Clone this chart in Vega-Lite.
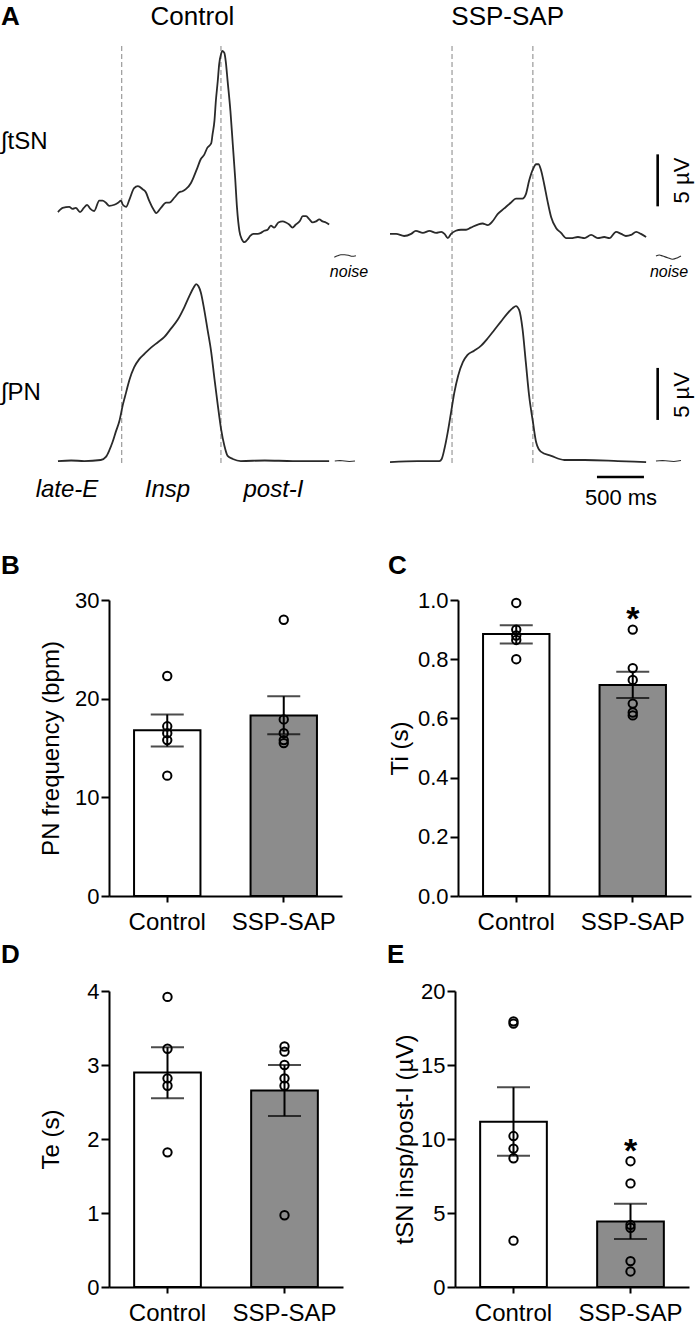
{
"$schema": "https://vega.github.io/schema/vega-lite/v6.json",
"background": "white",
"padding": {"top": 3, "left": 0, "right": 0, "bottom": 0},
"config": {
 "font": "Liberation Sans",
 "view": {"stroke": null},
 "axis": {"labelFont": "Liberation Sans", "titleFont": "Liberation Sans", "labelColor": "black", "titleColor": "black", "domainColor": "black", "tickColor": "black", "domainWidth": 2, "tickWidth": 2, "grid": false, "titleFontWeight": "normal"},
 "axisY": {"tickSize": 8, "labelFontSize": 22, "labelPadding": 2, "titleFontSize": 24, "titleAngle": -90, "titleBaseline": "middle", "titleAlign": "center", "titleY": 148},
 "axisX": {"tickSize": 6, "labelFontSize": 24, "labelPadding": 8, "labelAngle": 0},
 "title": {"font": "Liberation Sans", "fontSize": 26, "fontWeight": "bold", "anchor": "start", "frame": "group", "color": "black", "baseline": "alphabetic"}
},
"datasets": {
 "bars": [
  {"panel": "B", "group": "Control", "mean": 16.8, "lo": 15.15, "hi": 18.4},
  {"panel": "B", "group": "SSP-SAP", "mean": 18.3, "lo": 16.4, "hi": 20.25},
  {"panel": "C", "group": "Control", "mean": 0.885, "lo": 0.853, "hi": 0.915},
  {"panel": "C", "group": "SSP-SAP", "mean": 0.713, "lo": 0.669, "hi": 0.758},
  {"panel": "D", "group": "Control", "mean": 2.9, "lo": 2.55, "hi": 3.24},
  {"panel": "D", "group": "SSP-SAP", "mean": 2.655, "lo": 2.31, "hi": 3.0},
  {"panel": "E", "group": "Control", "mean": 11.17, "lo": 8.86, "hi": 13.5},
  {"panel": "E", "group": "SSP-SAP", "mean": 4.43, "lo": 3.24, "hi": 5.62}
 ],
 "points": [
  {"panel": "B", "group": "Control", "value": 22.3},
  {"panel": "B", "group": "Control", "value": 17.2},
  {"panel": "B", "group": "Control", "value": 16.5},
  {"panel": "B", "group": "Control", "value": 15.8},
  {"panel": "B", "group": "Control", "value": 12.2},
  {"panel": "B", "group": "SSP-SAP", "value": 28.0},
  {"panel": "B", "group": "SSP-SAP", "value": 17.9},
  {"panel": "B", "group": "SSP-SAP", "value": 16.5},
  {"panel": "B", "group": "SSP-SAP", "value": 15.8},
  {"panel": "B", "group": "SSP-SAP", "value": 15.5},
  {"panel": "C", "group": "Control", "value": 0.99},
  {"panel": "C", "group": "Control", "value": 0.9},
  {"panel": "C", "group": "Control", "value": 0.88},
  {"panel": "C", "group": "Control", "value": 0.865},
  {"panel": "C", "group": "Control", "value": 0.8},
  {"panel": "C", "group": "SSP-SAP", "value": 0.9},
  {"panel": "C", "group": "SSP-SAP", "value": 0.77},
  {"panel": "C", "group": "SSP-SAP", "value": 0.73},
  {"panel": "C", "group": "SSP-SAP", "value": 0.65},
  {"panel": "C", "group": "SSP-SAP", "value": 0.62},
  {"panel": "C", "group": "SSP-SAP", "value": 0.61},
  {"panel": "D", "group": "Control", "value": 3.92},
  {"panel": "D", "group": "Control", "value": 3.22},
  {"panel": "D", "group": "Control", "value": 2.82},
  {"panel": "D", "group": "Control", "value": 2.72},
  {"panel": "D", "group": "Control", "value": 1.82},
  {"panel": "D", "group": "SSP-SAP", "value": 3.25},
  {"panel": "D", "group": "SSP-SAP", "value": 3.18},
  {"panel": "D", "group": "SSP-SAP", "value": 3.0},
  {"panel": "D", "group": "SSP-SAP", "value": 2.82},
  {"panel": "D", "group": "SSP-SAP", "value": 2.72},
  {"panel": "D", "group": "SSP-SAP", "value": 0.97},
  {"panel": "E", "group": "Control", "value": 17.95},
  {"panel": "E", "group": "Control", "value": 17.8},
  {"panel": "E", "group": "Control", "value": 10.2},
  {"panel": "E", "group": "Control", "value": 9.35},
  {"panel": "E", "group": "Control", "value": 8.7},
  {"panel": "E", "group": "Control", "value": 3.13},
  {"panel": "E", "group": "SSP-SAP", "value": 8.5},
  {"panel": "E", "group": "SSP-SAP", "value": 7.0},
  {"panel": "E", "group": "SSP-SAP", "value": 4.2},
  {"panel": "E", "group": "SSP-SAP", "value": 4.0},
  {"panel": "E", "group": "SSP-SAP", "value": 1.75},
  {"panel": "E", "group": "SSP-SAP", "value": 1.05}
 ],
 "stars": [
  {"panel": "C", "group": "SSP-SAP", "label": "*", "v": 0.933},
  {"panel": "E", "group": "SSP-SAP", "label": "*", "v": 9.1}
 ],
 "phases": [
  {"cond": "Control", "t": 678},
  {"cond": "Control", "t": 1734},
  {"cond": "SSP-SAP", "t": 660},
  {"cond": "SSP-SAP", "t": 1520}
 ],
 "scalebars": [
  {"sig": "tSN", "t": 2848, "t2": 2848, "v": 0.45, "v2": 5.45},
  {"sig": "PN", "t": 2848, "t2": 2848, "v": 3.95, "v2": 8.95},
  {"sig": "PN", "t": 2202, "t2": 2702, "v": -1.54, "v2": -1.54}
 ],
 "labels": [
  {"cond": "Control", "sig": "tSN", "role": "letter", "label": "A", "t": -606, "v": 18.65},
  {"cond": "Control", "sig": "tSN", "role": "heading", "label": "Control", "t": 1431, "v": 18.7},
  {"cond": "SSP-SAP", "sig": "tSN", "role": "heading", "label": "SSP-SAP", "t": 1252, "v": 18.65},
  {"cond": "Control", "sig": "tSN", "role": "signal", "label": "∫tSN", "t": -606, "v": 6.63},
  {"cond": "Control", "sig": "PN", "role": "signal", "label": "∫PN", "t": -606, "v": 6.54},
  {"cond": "Control", "sig": "tSN", "role": "noise", "label": "noise", "t": 3096, "v": -5.87},
  {"cond": "SSP-SAP", "sig": "tSN", "role": "noise", "label": "noise", "t": 2969, "v": -5.87},
  {"cond": "Control", "sig": "PN", "role": "phase", "label": "late-E", "t": 96, "v": -2.79},
  {"cond": "Control", "sig": "PN", "role": "phase", "label": "Insp", "t": 1165, "v": -2.79},
  {"cond": "Control", "sig": "PN", "role": "phase", "label": "post-I", "t": 2293, "v": -2.79},
  {"cond": "SSP-SAP", "sig": "tSN", "role": "unit", "label": "5 µV", "t": 3104, "v": 2.93},
  {"cond": "SSP-SAP", "sig": "PN", "role": "unit", "label": "5 µV", "t": 3104, "v": 6.35},
  {"cond": "SSP-SAP", "sig": "PN", "role": "time", "label": "500 ms", "t": 2458, "v": -3.56}
 ],
 "traces": [
  {"cond":"Control","sig":"tSN","part":"trace","t":0,"v":-0.1},
  {"cond":"Control","sig":"tSN","part":"trace","t":50,"v":0.3},
  {"cond":"Control","sig":"tSN","part":"trace","t":120,"v":0.4},
  {"cond":"Control","sig":"tSN","part":"trace","t":155,"v":0.2},
  {"cond":"Control","sig":"tSN","part":"trace","t":190,"v":0.3},
  {"cond":"Control","sig":"tSN","part":"trace","t":235,"v":-0.1},
  {"cond":"Control","sig":"tSN","part":"trace","t":275,"v":0.3},
  {"cond":"Control","sig":"tSN","part":"trace","t":310,"v":0.6},
  {"cond":"Control","sig":"tSN","part":"trace","t":345,"v":0.2},
  {"cond":"Control","sig":"tSN","part":"trace","t":385,"v":0.0},
  {"cond":"Control","sig":"tSN","part":"trace","t":440,"v":1.0},
  {"cond":"Control","sig":"tSN","part":"trace","t":475,"v":1.0},
  {"cond":"Control","sig":"tSN","part":"trace","t":510,"v":0.8},
  {"cond":"Control","sig":"tSN","part":"trace","t":545,"v":0.5},
  {"cond":"Control","sig":"tSN","part":"trace","t":600,"v":0.6},
  {"cond":"Control","sig":"tSN","part":"trace","t":640,"v":0.8},
  {"cond":"Control","sig":"tSN","part":"trace","t":670,"v":1.0},
  {"cond":"Control","sig":"tSN","part":"trace","t":690,"v":0.6},
  {"cond":"Control","sig":"tSN","part":"trace","t":725,"v":0.4},
  {"cond":"Control","sig":"tSN","part":"trace","t":760,"v":1.1},
  {"cond":"Control","sig":"tSN","part":"trace","t":810,"v":2.2},
  {"cond":"Control","sig":"tSN","part":"trace","t":850,"v":2.4},
  {"cond":"Control","sig":"tSN","part":"trace","t":900,"v":2.1},
  {"cond":"Control","sig":"tSN","part":"trace","t":935,"v":1.8},
  {"cond":"Control","sig":"tSN","part":"trace","t":970,"v":1.0},
  {"cond":"Control","sig":"tSN","part":"trace","t":1020,"v":0.1},
  {"cond":"Control","sig":"tSN","part":"trace","t":1045,"v":-0.2},
  {"cond":"Control","sig":"tSN","part":"trace","t":1095,"v":0.3},
  {"cond":"Control","sig":"tSN","part":"trace","t":1150,"v":0.8},
  {"cond":"Control","sig":"tSN","part":"trace","t":1185,"v":0.8},
  {"cond":"Control","sig":"tSN","part":"trace","t":1240,"v":1.3},
  {"cond":"Control","sig":"tSN","part":"trace","t":1290,"v":1.8},
  {"cond":"Control","sig":"tSN","part":"trace","t":1325,"v":1.9},
  {"cond":"Control","sig":"tSN","part":"trace","t":1360,"v":2.1},
  {"cond":"Control","sig":"tSN","part":"trace","t":1415,"v":2.7},
  {"cond":"Control","sig":"tSN","part":"trace","t":1450,"v":3.4},
  {"cond":"Control","sig":"tSN","part":"trace","t":1485,"v":4.2},
  {"cond":"Control","sig":"tSN","part":"trace","t":1520,"v":5.0},
  {"cond":"Control","sig":"tSN","part":"trace","t":1555,"v":5.4},
  {"cond":"Control","sig":"tSN","part":"trace","t":1590,"v":6.1},
  {"cond":"Control","sig":"tSN","part":"trace","t":1630,"v":6.5},
  {"cond":"Control","sig":"tSN","part":"trace","t":1645,"v":7.4},
  {"cond":"Control","sig":"tSN","part":"trace","t":1665,"v":8.7},
  {"cond":"Control","sig":"tSN","part":"trace","t":1680,"v":10.6},
  {"cond":"Control","sig":"tSN","part":"trace","t":1700,"v":12.5},
  {"cond":"Control","sig":"tSN","part":"trace","t":1715,"v":14.1},
  {"cond":"Control","sig":"tSN","part":"trace","t":1735,"v":15.1},
  {"cond":"Control","sig":"tSN","part":"trace","t":1750,"v":15.4},
  {"cond":"Control","sig":"tSN","part":"trace","t":1770,"v":15.2},
  {"cond":"Control","sig":"tSN","part":"trace","t":1785,"v":14.4},
  {"cond":"Control","sig":"tSN","part":"trace","t":1805,"v":12.5},
  {"cond":"Control","sig":"tSN","part":"trace","t":1835,"v":9.6},
  {"cond":"Control","sig":"tSN","part":"trace","t":1860,"v":6.4},
  {"cond":"Control","sig":"tSN","part":"trace","t":1885,"v":3.2},
  {"cond":"Control","sig":"tSN","part":"trace","t":1905,"v":0.3},
  {"cond":"Control","sig":"tSN","part":"trace","t":1930,"v":-1.9},
  {"cond":"Control","sig":"tSN","part":"trace","t":1955,"v":-2.7},
  {"cond":"Control","sig":"tSN","part":"trace","t":1985,"v":-3.0},
  {"cond":"Control","sig":"tSN","part":"trace","t":2020,"v":-2.7},
  {"cond":"Control","sig":"tSN","part":"trace","t":2045,"v":-2.4},
  {"cond":"Control","sig":"tSN","part":"trace","t":2080,"v":-2.2},
  {"cond":"Control","sig":"tSN","part":"trace","t":2125,"v":-2.2},
  {"cond":"Control","sig":"tSN","part":"trace","t":2160,"v":-2.1},
  {"cond":"Control","sig":"tSN","part":"trace","t":2195,"v":-1.9},
  {"cond":"Control","sig":"tSN","part":"trace","t":2230,"v":-1.8},
  {"cond":"Control","sig":"tSN","part":"trace","t":2265,"v":-1.4},
  {"cond":"Control","sig":"tSN","part":"trace","t":2300,"v":-1.6},
  {"cond":"Control","sig":"tSN","part":"trace","t":2345,"v":-1.1},
  {"cond":"Control","sig":"tSN","part":"trace","t":2390,"v":-1.0},
  {"cond":"Control","sig":"tSN","part":"trace","t":2425,"v":-1.1},
  {"cond":"Control","sig":"tSN","part":"trace","t":2460,"v":-1.3},
  {"cond":"Control","sig":"tSN","part":"trace","t":2495,"v":-1.6},
  {"cond":"Control","sig":"tSN","part":"trace","t":2530,"v":-1.3},
  {"cond":"Control","sig":"tSN","part":"trace","t":2570,"v":-1.0},
  {"cond":"Control","sig":"tSN","part":"trace","t":2605,"v":-0.5},
  {"cond":"Control","sig":"tSN","part":"trace","t":2640,"v":-0.5},
  {"cond":"Control","sig":"tSN","part":"trace","t":2675,"v":-0.8},
  {"cond":"Control","sig":"tSN","part":"trace","t":2710,"v":-1.1},
  {"cond":"Control","sig":"tSN","part":"trace","t":2745,"v":-1.0},
  {"cond":"Control","sig":"tSN","part":"trace","t":2780,"v":-0.8},
  {"cond":"Control","sig":"tSN","part":"trace","t":2815,"v":-1.0},
  {"cond":"Control","sig":"tSN","part":"trace","t":2850,"v":-1.1},
  {"cond":"Control","sig":"tSN","part":"trace","t":2885,"v":-1.3},
  {"cond":"Control","sig":"tSN","part":"noise","t":2940,"v":-4.45},
  {"cond":"Control","sig":"tSN","part":"noise","t":2975,"v":-4.3},
  {"cond":"Control","sig":"tSN","part":"noise","t":3010,"v":-4.2},
  {"cond":"Control","sig":"tSN","part":"noise","t":3050,"v":-4.2},
  {"cond":"Control","sig":"tSN","part":"noise","t":3090,"v":-4.25},
  {"cond":"Control","sig":"tSN","part":"noise","t":3130,"v":-4.35},
  {"cond":"Control","sig":"tSN","part":"noise","t":3170,"v":-4.3},
  {"cond":"Control","sig":"PN","part":"trace","t":0,"v":0},
  {"cond":"Control","sig":"PN","part":"trace","t":140,"v":0.05},
  {"cond":"Control","sig":"PN","part":"trace","t":280,"v":0},
  {"cond":"Control","sig":"PN","part":"trace","t":455,"v":0.1},
  {"cond":"Control","sig":"PN","part":"trace","t":510,"v":0.4},
  {"cond":"Control","sig":"PN","part":"trace","t":545,"v":1.0},
  {"cond":"Control","sig":"PN","part":"trace","t":580,"v":1.8},
  {"cond":"Control","sig":"PN","part":"trace","t":615,"v":2.8},
  {"cond":"Control","sig":"PN","part":"trace","t":655,"v":3.9},
  {"cond":"Control","sig":"PN","part":"trace","t":690,"v":5.4},
  {"cond":"Control","sig":"PN","part":"trace","t":725,"v":6.6},
  {"cond":"Control","sig":"PN","part":"trace","t":760,"v":7.8},
  {"cond":"Control","sig":"PN","part":"trace","t":810,"v":9.0},
  {"cond":"Control","sig":"PN","part":"trace","t":865,"v":9.8},
  {"cond":"Control","sig":"PN","part":"trace","t":920,"v":10.3},
  {"cond":"Control","sig":"PN","part":"trace","t":990,"v":10.9},
  {"cond":"Control","sig":"PN","part":"trace","t":1060,"v":11.4},
  {"cond":"Control","sig":"PN","part":"trace","t":1130,"v":11.9},
  {"cond":"Control","sig":"PN","part":"trace","t":1200,"v":12.7},
  {"cond":"Control","sig":"PN","part":"trace","t":1275,"v":13.6},
  {"cond":"Control","sig":"PN","part":"trace","t":1345,"v":14.8},
  {"cond":"Control","sig":"PN","part":"trace","t":1395,"v":15.8},
  {"cond":"Control","sig":"PN","part":"trace","t":1445,"v":16.7},
  {"cond":"Control","sig":"PN","part":"trace","t":1470,"v":17.0},
  {"cond":"Control","sig":"PN","part":"trace","t":1495,"v":16.8},
  {"cond":"Control","sig":"PN","part":"trace","t":1520,"v":16.2},
  {"cond":"Control","sig":"PN","part":"trace","t":1555,"v":14.6},
  {"cond":"Control","sig":"PN","part":"trace","t":1590,"v":12.7},
  {"cond":"Control","sig":"PN","part":"trace","t":1630,"v":10.5},
  {"cond":"Control","sig":"PN","part":"trace","t":1665,"v":7.9},
  {"cond":"Control","sig":"PN","part":"trace","t":1700,"v":5.4},
  {"cond":"Control","sig":"PN","part":"trace","t":1735,"v":3.1},
  {"cond":"Control","sig":"PN","part":"trace","t":1770,"v":1.5},
  {"cond":"Control","sig":"PN","part":"trace","t":1805,"v":0.5},
  {"cond":"Control","sig":"PN","part":"trace","t":1860,"v":0.2},
  {"cond":"Control","sig":"PN","part":"trace","t":1945,"v":0},
  {"cond":"Control","sig":"PN","part":"trace","t":2200,"v":0.05},
  {"cond":"Control","sig":"PN","part":"trace","t":2500,"v":0},
  {"cond":"Control","sig":"PN","part":"trace","t":2885,"v":0},
  {"cond":"Control","sig":"PN","part":"noise","t":2945,"v":0.0},
  {"cond":"Control","sig":"PN","part":"noise","t":3000,"v":0.05},
  {"cond":"Control","sig":"PN","part":"noise","t":3050,"v":0.0},
  {"cond":"Control","sig":"PN","part":"noise","t":3100,"v":-0.05},
  {"cond":"Control","sig":"PN","part":"noise","t":3160,"v":0.0},
  {"cond":"SSP-SAP","sig":"tSN","part":"trace","t":0,"v":-2.2},
  {"cond":"SSP-SAP","sig":"tSN","part":"trace","t":65,"v":-2.2},
  {"cond":"SSP-SAP","sig":"tSN","part":"trace","t":150,"v":-2.4},
  {"cond":"SSP-SAP","sig":"tSN","part":"trace","t":225,"v":-2.2},
  {"cond":"SSP-SAP","sig":"tSN","part":"trace","t":275,"v":-1.9},
  {"cond":"SSP-SAP","sig":"tSN","part":"trace","t":350,"v":-2.1},
  {"cond":"SSP-SAP","sig":"tSN","part":"trace","t":420,"v":-1.9},
  {"cond":"SSP-SAP","sig":"tSN","part":"trace","t":490,"v":-2.1},
  {"cond":"SSP-SAP","sig":"tSN","part":"trace","t":545,"v":-2.0},
  {"cond":"SSP-SAP","sig":"tSN","part":"trace","t":580,"v":-2.2},
  {"cond":"SSP-SAP","sig":"tSN","part":"trace","t":615,"v":-2.6},
  {"cond":"SSP-SAP","sig":"tSN","part":"trace","t":650,"v":-2.2},
  {"cond":"SSP-SAP","sig":"tSN","part":"trace","t":700,"v":-1.9},
  {"cond":"SSP-SAP","sig":"tSN","part":"trace","t":755,"v":-1.8},
  {"cond":"SSP-SAP","sig":"tSN","part":"trace","t":810,"v":-1.8},
  {"cond":"SSP-SAP","sig":"tSN","part":"trace","t":860,"v":-1.6},
  {"cond":"SSP-SAP","sig":"tSN","part":"trace","t":935,"v":-1.3},
  {"cond":"SSP-SAP","sig":"tSN","part":"trace","t":985,"v":-1.2},
  {"cond":"SSP-SAP","sig":"tSN","part":"trace","t":1040,"v":-1.35},
  {"cond":"SSP-SAP","sig":"tSN","part":"trace","t":1090,"v":-1.0},
  {"cond":"SSP-SAP","sig":"tSN","part":"trace","t":1145,"v":-0.3},
  {"cond":"SSP-SAP","sig":"tSN","part":"trace","t":1215,"v":0.25},
  {"cond":"SSP-SAP","sig":"tSN","part":"trace","t":1285,"v":0.8},
  {"cond":"SSP-SAP","sig":"tSN","part":"trace","t":1340,"v":1.2},
  {"cond":"SSP-SAP","sig":"tSN","part":"trace","t":1410,"v":1.2},
  {"cond":"SSP-SAP","sig":"tSN","part":"trace","t":1445,"v":1.6},
  {"cond":"SSP-SAP","sig":"tSN","part":"trace","t":1480,"v":2.9},
  {"cond":"SSP-SAP","sig":"tSN","part":"trace","t":1520,"v":4.0},
  {"cond":"SSP-SAP","sig":"tSN","part":"trace","t":1555,"v":4.5},
  {"cond":"SSP-SAP","sig":"tSN","part":"trace","t":1580,"v":4.5},
  {"cond":"SSP-SAP","sig":"tSN","part":"trace","t":1605,"v":4.0},
  {"cond":"SSP-SAP","sig":"tSN","part":"trace","t":1640,"v":2.6},
  {"cond":"SSP-SAP","sig":"tSN","part":"trace","t":1675,"v":1.0},
  {"cond":"SSP-SAP","sig":"tSN","part":"trace","t":1715,"v":-0.6},
  {"cond":"SSP-SAP","sig":"tSN","part":"trace","t":1765,"v":-1.6},
  {"cond":"SSP-SAP","sig":"tSN","part":"trace","t":1820,"v":-2.1},
  {"cond":"SSP-SAP","sig":"tSN","part":"trace","t":1875,"v":-2.6},
  {"cond":"SSP-SAP","sig":"tSN","part":"trace","t":1925,"v":-2.6},
  {"cond":"SSP-SAP","sig":"tSN","part":"trace","t":2000,"v":-2.5},
  {"cond":"SSP-SAP","sig":"tSN","part":"trace","t":2070,"v":-2.6},
  {"cond":"SSP-SAP","sig":"tSN","part":"trace","t":2140,"v":-2.3},
  {"cond":"SSP-SAP","sig":"tSN","part":"trace","t":2210,"v":-2.6},
  {"cond":"SSP-SAP","sig":"tSN","part":"trace","t":2280,"v":-2.5},
  {"cond":"SSP-SAP","sig":"tSN","part":"trace","t":2335,"v":-2.6},
  {"cond":"SSP-SAP","sig":"tSN","part":"trace","t":2405,"v":-2.0},
  {"cond":"SSP-SAP","sig":"tSN","part":"trace","t":2460,"v":-2.2},
  {"cond":"SSP-SAP","sig":"tSN","part":"trace","t":2510,"v":-2.4},
  {"cond":"SSP-SAP","sig":"tSN","part":"trace","t":2565,"v":-2.3},
  {"cond":"SSP-SAP","sig":"tSN","part":"trace","t":2620,"v":-2.0},
  {"cond":"SSP-SAP","sig":"tSN","part":"trace","t":2670,"v":-2.2},
  {"cond":"SSP-SAP","sig":"tSN","part":"trace","t":2725,"v":-2.5},
  {"cond":"SSP-SAP","sig":"tSN","part":"noise","t":2830,"v":-4.33},
  {"cond":"SSP-SAP","sig":"tSN","part":"noise","t":2866,"v":-4.23},
  {"cond":"SSP-SAP","sig":"tSN","part":"noise","t":2901,"v":-4.33},
  {"cond":"SSP-SAP","sig":"tSN","part":"noise","t":2954,"v":-4.49},
  {"cond":"SSP-SAP","sig":"tSN","part":"noise","t":3007,"v":-4.64},
  {"cond":"SSP-SAP","sig":"tSN","part":"noise","t":3060,"v":-4.49},
  {"cond":"SSP-SAP","sig":"tSN","part":"noise","t":3096,"v":-4.33},
  {"cond":"SSP-SAP","sig":"PN","part":"trace","t":0,"v":-0.1},
  {"cond":"SSP-SAP","sig":"PN","part":"trace","t":295,"v":0},
  {"cond":"SSP-SAP","sig":"PN","part":"trace","t":525,"v":0},
  {"cond":"SSP-SAP","sig":"PN","part":"trace","t":550,"v":0.2},
  {"cond":"SSP-SAP","sig":"PN","part":"trace","t":580,"v":1.2},
  {"cond":"SSP-SAP","sig":"PN","part":"trace","t":615,"v":2.8},
  {"cond":"SSP-SAP","sig":"PN","part":"trace","t":650,"v":4.7},
  {"cond":"SSP-SAP","sig":"PN","part":"trace","t":685,"v":6.6},
  {"cond":"SSP-SAP","sig":"PN","part":"trace","t":725,"v":8.2},
  {"cond":"SSP-SAP","sig":"PN","part":"trace","t":775,"v":9.5},
  {"cond":"SSP-SAP","sig":"PN","part":"trace","t":825,"v":10.2},
  {"cond":"SSP-SAP","sig":"PN","part":"trace","t":895,"v":10.6},
  {"cond":"SSP-SAP","sig":"PN","part":"trace","t":970,"v":11.1},
  {"cond":"SSP-SAP","sig":"PN","part":"trace","t":1040,"v":11.8},
  {"cond":"SSP-SAP","sig":"PN","part":"trace","t":1110,"v":12.6},
  {"cond":"SSP-SAP","sig":"PN","part":"trace","t":1180,"v":13.4},
  {"cond":"SSP-SAP","sig":"PN","part":"trace","t":1250,"v":14.2},
  {"cond":"SSP-SAP","sig":"PN","part":"trace","t":1305,"v":14.7},
  {"cond":"SSP-SAP","sig":"PN","part":"trace","t":1340,"v":14.9},
  {"cond":"SSP-SAP","sig":"PN","part":"trace","t":1375,"v":14.5},
  {"cond":"SSP-SAP","sig":"PN","part":"trace","t":1410,"v":12.7},
  {"cond":"SSP-SAP","sig":"PN","part":"trace","t":1445,"v":9.5},
  {"cond":"SSP-SAP","sig":"PN","part":"trace","t":1480,"v":6.3},
  {"cond":"SSP-SAP","sig":"PN","part":"trace","t":1520,"v":3.8},
  {"cond":"SSP-SAP","sig":"PN","part":"trace","t":1555,"v":1.8},
  {"cond":"SSP-SAP","sig":"PN","part":"trace","t":1605,"v":0.9},
  {"cond":"SSP-SAP","sig":"PN","part":"trace","t":1715,"v":0.5},
  {"cond":"SSP-SAP","sig":"PN","part":"trace","t":1855,"v":0.1},
  {"cond":"SSP-SAP","sig":"PN","part":"trace","t":2070,"v":0.1},
  {"cond":"SSP-SAP","sig":"PN","part":"trace","t":2425,"v":0},
  {"cond":"SSP-SAP","sig":"PN","part":"trace","t":2725,"v":-0.1},
  {"cond":"SSP-SAP","sig":"PN","part":"noise","t":2830,"v":0.0},
  {"cond":"SSP-SAP","sig":"PN","part":"noise","t":2900,"v":0.05},
  {"cond":"SSP-SAP","sig":"PN","part":"noise","t":2960,"v":0.0},
  {"cond":"SSP-SAP","sig":"PN","part":"noise","t":3020,"v":-0.05},
  {"cond":"SSP-SAP","sig":"PN","part":"noise","t":3060,"v":0.0},
  {"cond":"SSP-SAP","sig":"PN","part":"noise","t":3096,"v":0.05}
 ]
},
"columns": 1,
"align": "none",
"spacing": 41,
"concat": [
 {
  "spacing": -6,
  "vconcat": [
   {
    "spacing": 8,
    "hconcat": [
     {
      "width": 269, "height": 235,
      "layer": [
       {"data": {"name": "phases"}, "transform": [{"filter": "datum.cond==='Control'"}],
        "mark": {"type": "rule", "color": "#9a9a9a", "strokeWidth": 1.2, "strokeDash": [5, 3]},
        "encoding": {"x": {"field": "t", "type": "quantitative", "scale": {"domain": [543, 3404.8], "nice": false, "zero": false}, "axis": null}}},
       {"data": {"name": "traces"}, "transform": [{"filter": "datum.cond==='Control' && datum.sig==='tSN' && datum.part==='trace'"}],
        "mark": {"type": "line", "color": "#2a2a2a", "strokeWidth": 1.8, "interpolate": "monotone"},
        "encoding": {"x": {"field": "t", "type": "quantitative", "scale": {"domain": [543, 3404.8], "nice": false, "zero": false}, "axis": null},
                     "y": {"field": "v", "type": "quantitative", "scale": {"domain": [-6.73, 15.87], "nice": false, "zero": false}, "axis": null}}},
       {"data": {"name": "traces"}, "transform": [{"filter": "datum.cond==='Control' && datum.sig==='tSN' && datum.part==='noise'"}],
        "mark": {"type": "line", "color": "#2a2a2a", "strokeWidth": 1.1, "interpolate": "monotone"},
        "encoding": {"x": {"field": "t", "type": "quantitative", "scale": {"domain": [543, 3404.8], "nice": false, "zero": false}, "axis": null},
                     "y": {"field": "v", "type": "quantitative", "scale": {"domain": [-6.73, 15.87], "nice": false, "zero": false}, "axis": null}}},
       {"data": {"name": "labels"}, "transform": [{"filter": "datum.cond==='Control' && datum.sig==='tSN' && datum.role==='letter'"}],
        "mark": {"type": "text", "fontSize": 26, "fontWeight": "bold", "align": "left", "baseline": "middle", "color": "black"},
        "encoding": {"x": {"field": "t", "type": "quantitative", "scale": {"domain": [543, 3404.8], "nice": false, "zero": false}, "axis": null},
                     "y": {"field": "v", "type": "quantitative", "scale": {"domain": [-6.73, 15.87], "nice": false, "zero": false}, "axis": null},
                     "text": {"field": "label"}}},
       {"data": {"name": "labels"}, "transform": [{"filter": "datum.cond==='Control' && datum.sig==='tSN' && datum.role==='heading'"}],
        "mark": {"type": "text", "fontSize": 26, "align": "center", "baseline": "middle", "color": "black"},
        "encoding": {"x": {"field": "t", "type": "quantitative", "scale": {"domain": [543, 3404.8], "nice": false, "zero": false}, "axis": null},
                     "y": {"field": "v", "type": "quantitative", "scale": {"domain": [-6.73, 15.87], "nice": false, "zero": false}, "axis": null},
                     "text": {"field": "label"}}},
       {"data": {"name": "labels"}, "transform": [{"filter": "datum.cond==='Control' && datum.sig==='tSN' && datum.role==='signal'"}],
        "mark": {"type": "text", "fontSize": 24, "align": "left", "baseline": "middle", "color": "black"},
        "encoding": {"x": {"field": "t", "type": "quantitative", "scale": {"domain": [543, 3404.8], "nice": false, "zero": false}, "axis": null},
                     "y": {"field": "v", "type": "quantitative", "scale": {"domain": [-6.73, 15.87], "nice": false, "zero": false}, "axis": null},
                     "text": {"field": "label"}}},
       {"data": {"name": "labels"}, "transform": [{"filter": "datum.cond==='Control' && datum.sig==='tSN' && datum.role==='noise'"}],
        "mark": {"type": "text", "fontSize": 16, "fontStyle": "italic", "align": "center", "baseline": "middle", "color": "black"},
        "encoding": {"x": {"field": "t", "type": "quantitative", "scale": {"domain": [543, 3404.8], "nice": false, "zero": false}, "axis": null},
                     "y": {"field": "v", "type": "quantitative", "scale": {"domain": [-6.73, 15.87], "nice": false, "zero": false}, "axis": null},
                     "text": {"field": "label"}}}
      ]
     },
     {
      "width": 311, "height": 235,
      "layer": [
       {"data": {"name": "phases"}, "transform": [{"filter": "datum.cond==='SSP-SAP'"}],
        "mark": {"type": "rule", "color": "#9a9a9a", "strokeWidth": 1.2, "strokeDash": [5, 3]},
        "encoding": {"x": {"field": "t", "type": "quantitative", "scale": {"domain": [0, 3309], "nice": false, "zero": false}, "axis": null}}},
       {"data": {"name": "traces"}, "transform": [{"filter": "datum.cond==='SSP-SAP' && datum.sig==='tSN' && datum.part==='trace'"}],
        "mark": {"type": "line", "color": "#2a2a2a", "strokeWidth": 1.8, "interpolate": "monotone"},
        "encoding": {"x": {"field": "t", "type": "quantitative", "scale": {"domain": [0, 3309], "nice": false, "zero": false}, "axis": null},
                     "y": {"field": "v", "type": "quantitative", "scale": {"domain": [-6.73, 15.87], "nice": false, "zero": false}, "axis": null}}},
       {"data": {"name": "traces"}, "transform": [{"filter": "datum.cond==='SSP-SAP' && datum.sig==='tSN' && datum.part==='noise'"}],
        "mark": {"type": "line", "color": "#2a2a2a", "strokeWidth": 1.1, "interpolate": "monotone"},
        "encoding": {"x": {"field": "t", "type": "quantitative", "scale": {"domain": [0, 3309], "nice": false, "zero": false}, "axis": null},
                     "y": {"field": "v", "type": "quantitative", "scale": {"domain": [-6.73, 15.87], "nice": false, "zero": false}, "axis": null}}},
       {"data": {"name": "scalebars"}, "transform": [{"filter": "datum.sig==='tSN'"}],
        "mark": {"type": "rule", "color": "black", "strokeWidth": 2.6},
        "encoding": {"x": {"field": "t", "type": "quantitative", "scale": {"domain": [0, 3309], "nice": false, "zero": false}, "axis": null},
                     "x2": {"field": "t2"},
                     "y": {"field": "v", "type": "quantitative", "scale": {"domain": [-6.73, 15.87], "nice": false, "zero": false}, "axis": null},
                     "y2": {"field": "v2"}}},
       {"data": {"name": "labels"}, "transform": [{"filter": "datum.cond==='SSP-SAP' && datum.sig==='tSN' && datum.role==='heading'"}],
        "mark": {"type": "text", "fontSize": 26, "align": "center", "baseline": "middle", "color": "black"},
        "encoding": {"x": {"field": "t", "type": "quantitative", "scale": {"domain": [0, 3309], "nice": false, "zero": false}, "axis": null},
                     "y": {"field": "v", "type": "quantitative", "scale": {"domain": [-6.73, 15.87], "nice": false, "zero": false}, "axis": null},
                     "text": {"field": "label"}}},
       {"data": {"name": "labels"}, "transform": [{"filter": "datum.cond==='SSP-SAP' && datum.sig==='tSN' && datum.role==='noise'"}],
        "mark": {"type": "text", "fontSize": 16, "fontStyle": "italic", "align": "center", "baseline": "middle", "color": "black"},
        "encoding": {"x": {"field": "t", "type": "quantitative", "scale": {"domain": [0, 3309], "nice": false, "zero": false}, "axis": null},
                     "y": {"field": "v", "type": "quantitative", "scale": {"domain": [-6.73, 15.87], "nice": false, "zero": false}, "axis": null},
                     "text": {"field": "label"}}},
       {"data": {"name": "labels"}, "transform": [{"filter": "datum.cond==='SSP-SAP' && datum.sig==='tSN' && datum.role==='unit'"}],
        "mark": {"type": "text", "fontSize": 22, "angle": 270, "align": "center", "baseline": "middle", "color": "black"},
        "encoding": {"x": {"field": "t", "type": "quantitative", "scale": {"domain": [0, 3309], "nice": false, "zero": false}, "axis": null},
                     "y": {"field": "v", "type": "quantitative", "scale": {"domain": [-6.73, 15.87], "nice": false, "zero": false}, "axis": null},
                     "text": {"field": "label"}}}
      ]
     }
    ]
   },
   {
    "spacing": 8,
    "hconcat": [
     {
      "width": 269, "height": 230,
      "layer": [
       {"data": {"name": "phases"}, "transform": [{"filter": "datum.cond==='Control'"}],
        "mark": {"type": "rule", "color": "#9a9a9a", "strokeWidth": 1.2, "strokeDash": [5, 3]},
        "encoding": {"x": {"field": "t", "type": "quantitative", "scale": {"domain": [543, 3404.8], "nice": false, "zero": false}, "axis": null},
                     "y": {"datum": 17.21, "type": "quantitative", "scale": {"domain": [-4.9, 17.21], "nice": false, "zero": false}, "axis": null},
                     "y2": {"datum": -0.3}}},
       {"data": {"name": "traces"}, "transform": [{"filter": "datum.cond==='Control' && datum.sig==='PN' && datum.part==='trace'"}],
        "mark": {"type": "line", "color": "#2a2a2a", "strokeWidth": 1.8, "interpolate": "monotone"},
        "encoding": {"x": {"field": "t", "type": "quantitative", "scale": {"domain": [543, 3404.8], "nice": false, "zero": false}, "axis": null},
                     "y": {"field": "v", "type": "quantitative", "scale": {"domain": [-4.9, 17.21], "nice": false, "zero": false}, "axis": null}}},
       {"data": {"name": "traces"}, "transform": [{"filter": "datum.cond==='Control' && datum.sig==='PN' && datum.part==='noise'"}],
        "mark": {"type": "line", "color": "#2a2a2a", "strokeWidth": 1.1},
        "encoding": {"x": {"field": "t", "type": "quantitative", "scale": {"domain": [543, 3404.8], "nice": false, "zero": false}, "axis": null},
                     "y": {"field": "v", "type": "quantitative", "scale": {"domain": [-4.9, 17.21], "nice": false, "zero": false}, "axis": null}}},
       {"data": {"name": "labels"}, "transform": [{"filter": "datum.cond==='Control' && datum.sig==='PN' && datum.role==='signal'"}],
        "mark": {"type": "text", "fontSize": 24, "align": "left", "baseline": "middle", "color": "black"},
        "encoding": {"x": {"field": "t", "type": "quantitative", "scale": {"domain": [543, 3404.8], "nice": false, "zero": false}, "axis": null},
                     "y": {"field": "v", "type": "quantitative", "scale": {"domain": [-4.9, 17.21], "nice": false, "zero": false}, "axis": null},
                     "text": {"field": "label"}}},
       {"data": {"name": "labels"}, "transform": [{"filter": "datum.cond==='Control' && datum.sig==='PN' && datum.role==='phase'"}],
        "mark": {"type": "text", "fontSize": 24, "fontStyle": "italic", "align": "center", "baseline": "middle", "color": "black"},
        "encoding": {"x": {"field": "t", "type": "quantitative", "scale": {"domain": [543, 3404.8], "nice": false, "zero": false}, "axis": null},
                     "y": {"field": "v", "type": "quantitative", "scale": {"domain": [-4.9, 17.21], "nice": false, "zero": false}, "axis": null},
                     "text": {"field": "label"}}}
      ]
     },
     {
      "width": 311, "height": 230,
      "layer": [
       {"data": {"name": "phases"}, "transform": [{"filter": "datum.cond==='SSP-SAP'"}],
        "mark": {"type": "rule", "color": "#9a9a9a", "strokeWidth": 1.2, "strokeDash": [5, 3]},
        "encoding": {"x": {"field": "t", "type": "quantitative", "scale": {"domain": [0, 3309], "nice": false, "zero": false}, "axis": null},
                     "y": {"datum": 17.21, "type": "quantitative", "scale": {"domain": [-4.9, 17.21], "nice": false, "zero": false}, "axis": null},
                     "y2": {"datum": -0.3}}},
       {"data": {"name": "traces"}, "transform": [{"filter": "datum.cond==='SSP-SAP' && datum.sig==='PN' && datum.part==='trace'"}],
        "mark": {"type": "line", "color": "#2a2a2a", "strokeWidth": 1.8, "interpolate": "monotone"},
        "encoding": {"x": {"field": "t", "type": "quantitative", "scale": {"domain": [0, 3309], "nice": false, "zero": false}, "axis": null},
                     "y": {"field": "v", "type": "quantitative", "scale": {"domain": [-4.9, 17.21], "nice": false, "zero": false}, "axis": null}}},
       {"data": {"name": "traces"}, "transform": [{"filter": "datum.cond==='SSP-SAP' && datum.sig==='PN' && datum.part==='noise'"}],
        "mark": {"type": "line", "color": "#2a2a2a", "strokeWidth": 1.1},
        "encoding": {"x": {"field": "t", "type": "quantitative", "scale": {"domain": [0, 3309], "nice": false, "zero": false}, "axis": null},
                     "y": {"field": "v", "type": "quantitative", "scale": {"domain": [-4.9, 17.21], "nice": false, "zero": false}, "axis": null}}},
       {"data": {"name": "scalebars"}, "transform": [{"filter": "datum.sig==='PN'"}],
        "mark": {"type": "rule", "color": "black", "strokeWidth": 2.6},
        "encoding": {"x": {"field": "t", "type": "quantitative", "scale": {"domain": [0, 3309], "nice": false, "zero": false}, "axis": null},
                     "x2": {"field": "t2"},
                     "y": {"field": "v", "type": "quantitative", "scale": {"domain": [-4.9, 17.21], "nice": false, "zero": false}, "axis": null},
                     "y2": {"field": "v2"}}},
       {"data": {"name": "labels"}, "transform": [{"filter": "datum.cond==='SSP-SAP' && datum.sig==='PN' && datum.role==='unit'"}],
        "mark": {"type": "text", "fontSize": 22, "angle": 270, "align": "center", "baseline": "middle", "color": "black"},
        "encoding": {"x": {"field": "t", "type": "quantitative", "scale": {"domain": [0, 3309], "nice": false, "zero": false}, "axis": null},
                     "y": {"field": "v", "type": "quantitative", "scale": {"domain": [-4.9, 17.21], "nice": false, "zero": false}, "axis": null},
                     "text": {"field": "label"}}},
       {"data": {"name": "labels"}, "transform": [{"filter": "datum.cond==='SSP-SAP' && datum.sig==='PN' && datum.role==='time'"}],
        "mark": {"type": "text", "fontSize": 22, "align": "center", "baseline": "middle", "color": "black"},
        "encoding": {"x": {"field": "t", "type": "quantitative", "scale": {"domain": [0, 3309], "nice": false, "zero": false}, "axis": null},
                     "y": {"field": "v", "type": "quantitative", "scale": {"domain": [-4.9, 17.21], "nice": false, "zero": false}, "axis": null},
                     "text": {"field": "label"}}}
      ]
     }
    ]
   }
  ]
 },
 {
  "spacing": 8,
  "vconcat": [
   {
    "spacing": 46,
    "hconcat": [
     {
      "width": 233, "height": 296,
      "title": {"text": "B", "dx": -108, "offset": 10},
      "layer": [
       {"data": {"name": "bars"}, "transform": [{"filter": "datum.panel==='B'"}],
        "mark": {"type": "bar", "stroke": "black", "strokeWidth": 2},
        "encoding": {"x": {"field": "group", "type": "nominal", "scale": {"domain": ["Control", "SSP-SAP"], "paddingInner": 0.43, "paddingOuter": 0.215}, "axis": {"title": null}},
                     "y": {"field": "mean", "type": "quantitative", "scale": {"domain": [0, 30], "nice": false}, "axis": {"title": "PN frequency (bpm)", "values": [0, 10, 20, 30], "format": "d", "titleX": -58}},
                     "fill": {"field": "group", "type": "nominal", "scale": {"domain": ["Control", "SSP-SAP"], "range": ["#ffffff", "#8c8c8c"]}, "legend": null}}},
       {"data": {"name": "bars"}, "transform": [{"filter": "datum.panel==='B'"}],
        "mark": {"type": "rule", "color": "black", "strokeWidth": 2},
        "encoding": {"x": {"field": "group", "type": "nominal"},
                     "y": {"field": "lo", "type": "quantitative"}, "y2": {"field": "hi"}}},
       {"data": {"name": "bars"}, "transform": [{"filter": "datum.panel==='B'"}],
        "mark": {"type": "tick", "color": "black", "thickness": 2, "size": 33},
        "encoding": {"x": {"field": "group", "type": "nominal"},
                     "y": {"field": "lo", "type": "quantitative"}}},
       {"data": {"name": "bars"}, "transform": [{"filter": "datum.panel==='B'"}],
        "mark": {"type": "tick", "color": "black", "thickness": 2, "size": 33},
        "encoding": {"x": {"field": "group", "type": "nominal"},
                     "y": {"field": "hi", "type": "quantitative"}}},
       {"data": {"name": "points"}, "transform": [{"filter": "datum.panel==='B'"}],
        "mark": {"type": "point", "filled": false, "color": "black", "strokeWidth": 2, "size": 70, "opacity": 1},
        "encoding": {"x": {"field": "group", "type": "nominal"},
                     "y": {"field": "value", "type": "quantitative"}}}
      ]
     },
     {
      "width": 233, "height": 296,
      "title": {"text": "C", "dx": -70, "offset": 10},
      "layer": [
       {"data": {"name": "bars"}, "transform": [{"filter": "datum.panel==='C'"}],
        "mark": {"type": "bar", "stroke": "black", "strokeWidth": 2},
        "encoding": {"x": {"field": "group", "type": "nominal", "scale": {"domain": ["Control", "SSP-SAP"], "paddingInner": 0.43, "paddingOuter": 0.215}, "axis": {"title": null}},
                     "y": {"field": "mean", "type": "quantitative", "scale": {"domain": [0, 1], "nice": false}, "axis": {"title": "Ti (s)", "values": [0, 0.2, 0.4, 0.6, 0.8, 1.0], "format": ".1f", "titleX": -58}},
                     "fill": {"field": "group", "type": "nominal", "scale": {"domain": ["Control", "SSP-SAP"], "range": ["#ffffff", "#8c8c8c"]}, "legend": null}}},
       {"data": {"name": "bars"}, "transform": [{"filter": "datum.panel==='C'"}],
        "mark": {"type": "rule", "color": "black", "strokeWidth": 2},
        "encoding": {"x": {"field": "group", "type": "nominal"},
                     "y": {"field": "lo", "type": "quantitative"}, "y2": {"field": "hi"}}},
       {"data": {"name": "bars"}, "transform": [{"filter": "datum.panel==='C'"}],
        "mark": {"type": "tick", "color": "black", "thickness": 2, "size": 33},
        "encoding": {"x": {"field": "group", "type": "nominal"},
                     "y": {"field": "lo", "type": "quantitative"}}},
       {"data": {"name": "bars"}, "transform": [{"filter": "datum.panel==='C'"}],
        "mark": {"type": "tick", "color": "black", "thickness": 2, "size": 33},
        "encoding": {"x": {"field": "group", "type": "nominal"},
                     "y": {"field": "hi", "type": "quantitative"}}},
       {"data": {"name": "points"}, "transform": [{"filter": "datum.panel==='C'"}],
        "mark": {"type": "point", "filled": false, "color": "black", "strokeWidth": 2, "size": 70, "opacity": 1},
        "encoding": {"x": {"field": "group", "type": "nominal"},
                     "y": {"field": "value", "type": "quantitative"}}},
       {"data": {"name": "stars"}, "transform": [{"filter": "datum.panel==='C'"}],
        "mark": {"type": "text", "fontSize": 34, "fontWeight": "bold", "align": "center", "baseline": "middle", "color": "black"},
        "encoding": {"x": {"field": "group", "type": "nominal"},
                     "y": {"field": "v", "type": "quantitative"},
                     "text": {"field": "label"}}}
      ]
     }
    ]
   },
   {
    "spacing": 44,
    "hconcat": [
     {
      "width": 234, "height": 296,
      "title": {"text": "D", "dx": -108, "offset": 12},
      "layer": [
       {"data": {"name": "bars"}, "transform": [{"filter": "datum.panel==='D'"}],
        "mark": {"type": "bar", "stroke": "black", "strokeWidth": 2},
        "encoding": {"x": {"field": "group", "type": "nominal", "scale": {"domain": ["Control", "SSP-SAP"], "paddingInner": 0.43, "paddingOuter": 0.215}, "axis": {"title": null}},
                     "y": {"field": "mean", "type": "quantitative", "scale": {"domain": [0, 4], "nice": false}, "axis": {"title": "Te (s)", "values": [0, 1, 2, 3, 4], "format": "d", "titleX": -58}},
                     "fill": {"field": "group", "type": "nominal", "scale": {"domain": ["Control", "SSP-SAP"], "range": ["#ffffff", "#8c8c8c"]}, "legend": null}}},
       {"data": {"name": "bars"}, "transform": [{"filter": "datum.panel==='D'"}],
        "mark": {"type": "rule", "color": "black", "strokeWidth": 2},
        "encoding": {"x": {"field": "group", "type": "nominal"},
                     "y": {"field": "lo", "type": "quantitative"}, "y2": {"field": "hi"}}},
       {"data": {"name": "bars"}, "transform": [{"filter": "datum.panel==='D'"}],
        "mark": {"type": "tick", "color": "black", "thickness": 2, "size": 33},
        "encoding": {"x": {"field": "group", "type": "nominal"},
                     "y": {"field": "lo", "type": "quantitative"}}},
       {"data": {"name": "bars"}, "transform": [{"filter": "datum.panel==='D'"}],
        "mark": {"type": "tick", "color": "black", "thickness": 2, "size": 33},
        "encoding": {"x": {"field": "group", "type": "nominal"},
                     "y": {"field": "hi", "type": "quantitative"}}},
       {"data": {"name": "points"}, "transform": [{"filter": "datum.panel==='D'"}],
        "mark": {"type": "point", "filled": false, "color": "black", "strokeWidth": 2, "size": 70, "opacity": 1},
        "encoding": {"x": {"field": "group", "type": "nominal"},
                     "y": {"field": "value", "type": "quantitative"}}}
      ]
     },
     {
      "width": 234, "height": 296,
      "title": {"text": "E", "dx": -68, "offset": 12},
      "layer": [
       {"data": {"name": "bars"}, "transform": [{"filter": "datum.panel==='E'"}],
        "mark": {"type": "bar", "stroke": "black", "strokeWidth": 2},
        "encoding": {"x": {"field": "group", "type": "nominal", "scale": {"domain": ["Control", "SSP-SAP"], "paddingInner": 0.43, "paddingOuter": 0.215}, "axis": {"title": null}},
                     "y": {"field": "mean", "type": "quantitative", "scale": {"domain": [0, 20], "nice": false}, "axis": {"title": "tSN insp/post-I (µV)", "values": [0, 5, 10, 15, 20], "format": "d", "titleX": -50}},
                     "fill": {"field": "group", "type": "nominal", "scale": {"domain": ["Control", "SSP-SAP"], "range": ["#ffffff", "#8c8c8c"]}, "legend": null}}},
       {"data": {"name": "bars"}, "transform": [{"filter": "datum.panel==='E'"}],
        "mark": {"type": "rule", "color": "black", "strokeWidth": 2},
        "encoding": {"x": {"field": "group", "type": "nominal"},
                     "y": {"field": "lo", "type": "quantitative"}, "y2": {"field": "hi"}}},
       {"data": {"name": "bars"}, "transform": [{"filter": "datum.panel==='E'"}],
        "mark": {"type": "tick", "color": "black", "thickness": 2, "size": 33},
        "encoding": {"x": {"field": "group", "type": "nominal"},
                     "y": {"field": "lo", "type": "quantitative"}}},
       {"data": {"name": "bars"}, "transform": [{"filter": "datum.panel==='E'"}],
        "mark": {"type": "tick", "color": "black", "thickness": 2, "size": 33},
        "encoding": {"x": {"field": "group", "type": "nominal"},
                     "y": {"field": "hi", "type": "quantitative"}}},
       {"data": {"name": "points"}, "transform": [{"filter": "datum.panel==='E'"}],
        "mark": {"type": "point", "filled": false, "color": "black", "strokeWidth": 2, "size": 70, "opacity": 1},
        "encoding": {"x": {"field": "group", "type": "nominal"},
                     "y": {"field": "value", "type": "quantitative"}}},
       {"data": {"name": "stars"}, "transform": [{"filter": "datum.panel==='E'"}],
        "mark": {"type": "text", "fontSize": 34, "fontWeight": "bold", "align": "center", "baseline": "middle", "color": "black"},
        "encoding": {"x": {"field": "group", "type": "nominal"},
                     "y": {"field": "v", "type": "quantitative"},
                     "text": {"field": "label"}}}
      ]
     }
    ]
   }
  ]
 }
]
}
